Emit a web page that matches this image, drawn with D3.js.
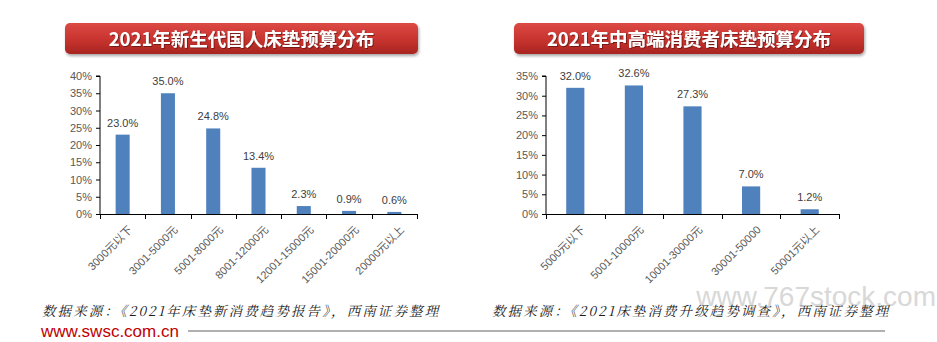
<!DOCTYPE html>
<html>
<head>
<meta charset="utf-8">
<script src="https://cdn.jsdelivr.net/npm/d3@7/dist/d3.min.js"></script>
<style>
  html, body { margin: 0; padding: 0; background: #fff; }
  svg { display: block; }
  .tick-label { font-family: "Liberation Sans", Arial, sans-serif; font-size: 11px; fill: #595959; }
  .cat-label { font-family: "Liberation Sans", "Noto Sans CJK SC", sans-serif; font-size: 11px; fill: #595959; }
  .val-label { font-family: "Liberation Sans", Arial, sans-serif; font-size: 11px; fill: #404040; }
</style>
</head>
<body>
<svg id="chart" width="937" height="342"></svg>
<script>
// Chart 1: new-generation consumers' mattress budget
const title1 = "2021年新生代国人床垫预算分布";
const categories1 = ["3000元以下", "3001-5000元", "5001-8000元", "8001-12000元", "12001-15000元", "15001-20000元", "20000元以上"];
const values1 = [23.0, 35.0, 24.8, 13.4, 2.3, 0.9, 0.6];
const yTicks1 = [0, 5, 10, 15, 20, 25, 30, 35, 40];
const source1 = "数据来源：《2021年床垫新消费趋势报告》，西南证券整理";

// Chart 2: mid/high-end consumers' mattress budget
const title2 = "2021年中高端消费者床垫预算分布";
const categories2 = ["5000元以下", "5001-10000元", "10001-30000元", "30001-50000", "50001元以上"];
const values2 = [32.0, 32.6, 27.3, 7.0, 1.2];
const yTicks2 = [0, 5, 10, 15, 20, 25, 30, 35];
const source2 = "数据来源：《2021床垫消费升级趋势调查》，西南证券整理";

const siteText = "www.swsc.com.cn";
const watermark = "www.767stock.com";

const svg = d3.select("#chart");

const defs = svg.append("defs");
const grad = defs.append("linearGradient").attr("id", "titleGrad")
  .attr("x1", 0).attr("y1", 0).attr("x2", 0).attr("y2", 1);
grad.append("stop").attr("offset", "0%").attr("stop-color", "#dc4a44");
grad.append("stop").attr("offset", "55%").attr("stop-color", "#c7332e");
grad.append("stop").attr("offset", "100%").attr("stop-color", "#a82521");
const shadow = defs.append("filter").attr("id", "boxShadow")
  .attr("x", "-5%").attr("y", "-20%").attr("width", "110%").attr("height", "160%");
shadow.append("feDropShadow").attr("dx", 1).attr("dy", 2).attr("stdDeviation", 1.6)
  .attr("flood-color", "#000").attr("flood-opacity", 0.35);
const textShadow = defs.append("filter").attr("id", "textShadow");
textShadow.append("feDropShadow").attr("dx", 1).attr("dy", 1).attr("stdDeviation", 0.6)
  .attr("flood-color", "#5a0d0b").attr("flood-opacity", 0.7);

// faint site watermark
svg.append("text")
  .attr("x", 936).attr("y", 306)
  .attr("text-anchor", "end")
  .style("font-family", "'Liberation Sans', Arial, sans-serif")
  .style("font-size", "28px")
  .style("fill", "#d8d8d8")
  .text(watermark);

function titleBox(x, y, w, h, text) {
  const g = svg.append("g");
  g.append("rect").attr("x", x).attr("y", y).attr("width", w).attr("height", h)
    .attr("rx", 5).attr("fill", "url(#titleGrad)").attr("filter", "url(#boxShadow)");
  g.append("text")
    .attr("x", x + w / 2).attr("y", y + h / 2 + 7)
    .attr("text-anchor", "middle")
    .attr("filter", "url(#textShadow)")
    .style("font-family", "'Noto Sans CJK SC', sans-serif")
    .style("font-weight", "bold")
    .style("font-size", "18.5px")
    .style("fill", "#fff")
    .text(text);
}

function barChart(opt) {
  const { left, right, top, bottom, cats, vals, ticks, yMax } = opt;
  const g = svg.append("g");
  const x = d3.scaleBand().domain(cats).range([left, right])
    .paddingInner(0.69).paddingOuter(0.345);
  const y = d3.scaleLinear().domain([0, yMax]).range([bottom, top]);

  // y axis
  const yAxis = d3.axisLeft(y).tickValues(ticks).tickSize(4).tickPadding(4)
    .tickFormat(d => d + "%");
  const ya = g.append("g").attr("transform", `translate(${left},0)`).call(yAxis);
  ya.select(".domain").attr("stroke", "#000").attr("stroke-width", 1).attr("d", `M-4,${top}H0V${bottom}`);
  ya.selectAll(".tick line").attr("stroke", "#000");
  ya.selectAll(".tick text").attr("class", "tick-label").attr("fill", null);

  // bars
  g.selectAll("rect.bar").data(vals).enter().append("rect")
    .attr("class", "bar")
    .attr("x", (d, i) => x(cats[i]))
    .attr("width", x.bandwidth())
    .attr("y", d => y(d))
    .attr("height", d => bottom - y(d))
    .attr("fill", "#4f81bd");

  // value labels
  g.selectAll("text.val").data(vals).enter().append("text")
    .attr("class", "val-label")
    .attr("x", (d, i) => x(cats[i]) + x.bandwidth() / 2)
    .attr("y", d => y(d) - 8)
    .attr("text-anchor", "middle")
    .text(d => d.toFixed(1) + "%");

  // x axis line with boundary ticks
  const step = x.step();
  g.append("line").attr("x1", left).attr("x2", right).attr("y1", bottom + 0.5).attr("y2", bottom + 0.5)
    .attr("stroke", "#000");
  g.selectAll("line.xt").data(d3.range(cats.length + 1)).enter().append("line")
    .attr("x1", i => Math.round(left + i * step) + 0.5).attr("x2", i => Math.round(left + i * step) + 0.5)
    .attr("y1", bottom).attr("y2", bottom + 5)
    .attr("stroke", "#000");

  // rotated category labels
  g.selectAll("text.cat").data(cats).enter().append("text")
    .attr("class", "cat-label")
    .attr("text-anchor", "end")
    .attr("transform", d => `translate(${x(d) + x.bandwidth() / 2 + 5},${bottom + 11}) rotate(-45)`)
    .attr("dy", "0.7em")
    .text(d => d);
}

titleBox(65, 23, 353, 31, title1);
titleBox(514, 23, 350, 31, title2);

barChart({ left: 100, right: 417, top: 76, bottom: 214, cats: categories1, vals: values1, ticks: yTicks1, yMax: 40 });
barChart({ left: 546, right: 839, top: 76, bottom: 214, cats: categories2, vals: values2, ticks: yTicks2, yMax: 35 });

// footer: sources, site address and rule
const srcStyle = sel => sel
  .style("font-family", "'Noto Serif CJK SC', 'Noto Sans CJK SC', serif")
  .style("font-style", "italic")
  .style("font-size", "13.5px")
  .style("letter-spacing", "2.1px")
  .style("fill", "#1a1a1a");
svg.append("text").attr("x", 42).attr("y", 316).text(source1).call(srcStyle);
svg.append("text").attr("x", 492).attr("y", 316).text(source2).call(srcStyle);

svg.append("text").attr("x", 41).attr("y", 337)
  .style("font-family", "'Liberation Sans', Arial, sans-serif")
  .style("font-size", "17px")
  .style("fill", "#c00000")
  .text(siteText);
svg.append("line").attr("x1", 188).attr("x2", 885).attr("y1", 331).attr("y2", 331)
  .attr("stroke", "#b0b0b0").attr("stroke-width", 2);
</script>
</body>
</html>
